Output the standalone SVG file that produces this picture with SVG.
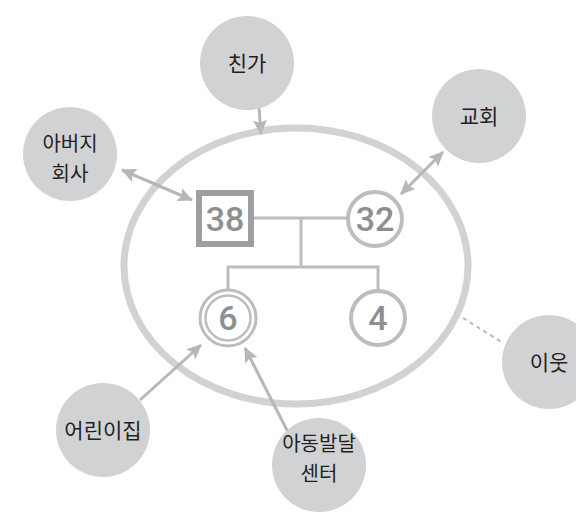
<svg xmlns="http://www.w3.org/2000/svg" width="576" height="520" viewBox="0 0 576 520">
<defs>
<style>
.ext circle{fill:#d1d2d4}
.lbl{font-family:"Noto Sans CJK KR","Noto Sans",sans-serif;font-size:21px;fill:#231f20;text-anchor:middle}
.lbl2{font-family:"Noto Sans CJK KR","Noto Sans",sans-serif;font-size:20px;fill:#231f20;text-anchor:middle}
.num{font-family:Roboto,"Liberation Sans",sans-serif;font-weight:500;font-size:34px;fill:#8d8e90;text-anchor:middle}
.con{stroke:#b6b7b9;stroke-width:3;fill:none}
.fam{stroke:#bcbdbf;stroke-width:3;fill:none}
.member{fill:#fff;stroke:#bcbdbf;stroke-width:4}
</style>
<marker id="ah" markerUnits="userSpaceOnUse" markerWidth="16" markerHeight="14" refX="14" refY="7" orient="auto-start-reverse" viewBox="0 0 16 14">
<path d="M0,0 L15,7 L0,14 L3,7 z" fill="#b6b7b9"/>
</marker>
</defs>
<rect width="576" height="520" fill="#fff"/>
<ellipse cx="296" cy="266" rx="172" ry="138" fill="none" stroke="#d1d2d4" stroke-width="7"/>
<g id="connectors">
<line class="con" x1="259" y1="108" x2="261" y2="134" marker-end="url(#ah)"/>
<line class="con" x1="122" y1="170" x2="192" y2="200" marker-start="url(#ah)" marker-end="url(#ah)"/>
<line class="con" x1="443" y1="152" x2="401" y2="194" marker-start="url(#ah)" marker-end="url(#ah)"/>
<line x1="463" y1="318" x2="503" y2="343" stroke="#b6b7b9" stroke-width="2" stroke-dasharray="4,4"/>
<line class="con" x1="140" y1="400" x2="201" y2="345" marker-end="url(#ah)"/>
<line class="con" x1="291" y1="438" x2="245" y2="348" marker-end="url(#ah)"/>
<polyline class="fam" points="254,218 347,218"/>
<polyline class="fam" points="301,218 301,267"/>
<polyline class="fam" points="228,289 228,267 378,267 378,290"/>
</g>
<g id="n-chinga" class="ext"><circle cx="247" cy="63" r="47"/><text class="lbl" x="247" y="71">친가</text></g>
<g id="n-abeoji" class="ext"><circle cx="70" cy="154" r="47"/><text class="lbl2" x="70" y="151"><tspan x="70">아버지</tspan><tspan x="70" dy="30">회사</tspan></text></g>
<g id="n-church" class="ext"><circle cx="479" cy="116" r="47"/><text class="lbl" x="479" y="124">교회</text></g>
<g id="n-neighbor" class="ext"><circle cx="549" cy="362" r="47"/><text class="lbl" x="549" y="370">이웃</text></g>
<g id="n-daycare" class="ext"><circle cx="103" cy="430" r="47"/><text class="lbl" x="103" y="438">어린이집</text></g>
<g id="n-center" class="ext"><circle cx="319" cy="465" r="47"/><text class="lbl2" x="319" y="451"><tspan x="319">아동발달</tspan><tspan x="319" dy="30">센터</tspan></text></g>
<g id="m38"><rect x="199" y="193" width="52" height="51" fill="#fff" stroke="#9d9ea0" stroke-width="6"/><text class="num" x="225" y="231">38</text></g>
<g id="m32"><circle class="member" cx="375" cy="219" r="27"/><text class="num" x="375" y="231">32</text></g>
<g id="m6"><circle cx="228" cy="318" r="28" fill="#fff" stroke="#bcbdbf" stroke-width="3"/><circle cx="228" cy="318" r="22.5" fill="none" stroke="#bcbdbf" stroke-width="2.5"/><text class="num" x="228" y="330">6</text></g>
<g id="m4"><circle class="member" cx="378" cy="318" r="27"/><text class="num" x="378" y="330">4</text></g>
</svg>
